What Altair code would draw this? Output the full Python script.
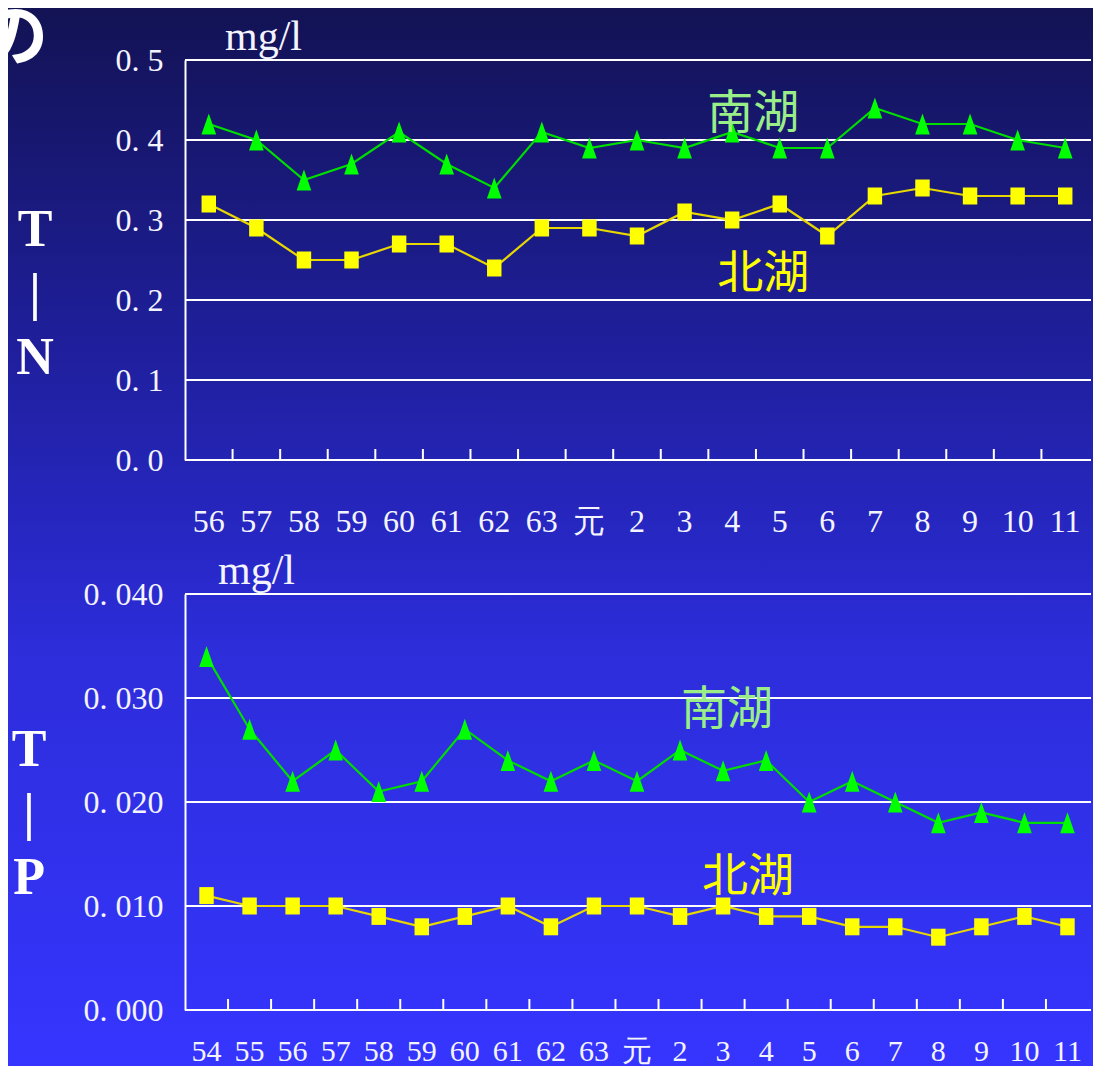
import altair as alt
import pandas as pd

# ---------------- data ----------------
TN_YEARS = ["56", "57", "58", "59", "60", "61", "62", "63", "元", "2", "3", "4", "5", "6", "7", "8", "9", "10", "11"]
TN_SOUTH = [0.42, 0.40, 0.35, 0.37, 0.41, 0.37, 0.34, 0.41, 0.39, 0.40, 0.39, 0.41, 0.39, 0.39, 0.44, 0.42, 0.42, 0.40, 0.39]
TN_NORTH = [0.32, 0.29, 0.25, 0.25, 0.27, 0.27, 0.24, 0.29, 0.29, 0.28, 0.31, 0.30, 0.32, 0.28, 0.33, 0.34, 0.33, 0.33, 0.33]
TN_GRID = [0.0, 0.1, 0.2, 0.3, 0.4, 0.5]

TP_YEARS = ["54", "55", "56", "57", "58", "59", "60", "61", "62", "63", "元", "2", "3", "4", "5", "6", "7", "8", "9", "10", "11"]
TP_SOUTH = [0.034, 0.027, 0.022, 0.025, 0.021, 0.022, 0.027, 0.024, 0.022, 0.024, 0.022,
            0.025, 0.023, 0.024, 0.020, 0.022, 0.020, 0.018, 0.019, 0.018, 0.018]
TP_NORTH = [0.011, 0.010, 0.010, 0.010, 0.009, 0.008, 0.009, 0.010, 0.008, 0.010, 0.010,
            0.009, 0.010, 0.009, 0.009, 0.008, 0.008, 0.007, 0.008, 0.009, 0.008]
TP_GRID = [0.0, 0.01, 0.02, 0.03, 0.04]

LAKES = ["南湖", "北湖"]
# annotation anchors: (year, value, dx)
TN_LABELS = [("4", 0.4377, 21), ("4", 0.2372, 31)]
TP_LABELS = [("3", 0.0292, 4), ("3", 0.0132, 25)]
CORNER_GLYPH = "の"   # partly cut-off title character at the top-left corner

# ---------------- style ----------------
W = 904
LEFT = 177          # visible space left of the plot
CUT_L = 30          # hidden extra strip on the left (negative padding)
CUT_T = 10          # hidden extra strip on the top (negative padding)
FONT_NUM = "Liberation Serif"
FONT_CJK = "Noto Sans CJK JP"
TXT = "#F4F4FF"
GREEN_LINE = "#00DD00"
GREEN_MARK = "#00FF00"
YELLOW_LINE = "#E8D800"
YELLOW_MARK = "#FFFF00"
SOUTH_TEXT = "#9AEE88"
NORTH_TEXT = "#FFFF00"
TRI = "M0,-1L-0.7,1L0.7,1Z"
SQR = "M-0.85,-1L0.85,-1L0.85,1L-0.85,1Z"


def panel(years, south, north, grid, fmt, H, top_ext, bot_ext, stops,
          unit_xy, letters, letters_xy, labels, xfs, xpad, corner=False):
    ymax = grid[-1]
    xscale = alt.Scale(type="band", paddingInner=0, paddingOuter=0)
    yscale = alt.Scale(domain=[0, ymax], nice=False, zero=True)

    xaxis = alt.Axis(title=None, labelAngle=0, labelFont=FONT_NUM, labelFontSize=xfs,
                     labelColor=TXT, labelPadding=xpad, ticks=False, tickSize=0,
                     domain=False, grid=False, labelOverlap=False, zindex=1)
    yaxis = alt.Axis(title=None, values=grid,
                     labelExpr=f"replace(format(datum.value, '{fmt}'), '.', '. ')",
                     labelFont=FONT_NUM, labelFontSize=32, labelColor=TXT,
                     labelPadding=22, ticks=False, tickSize=0,
                     domainColor="white", domainWidth=2, grid=False, zindex=1)

    def X(band=0.5):
        return alt.X("year:N", sort=years, scale=xscale, bandPosition=band, axis=xaxis)

    def Y():
        return alt.Y("value:Q", scale=yscale, axis=yaxis)

    one = pd.DataFrame({"k": [0]})
    south_df = pd.DataFrame({"year": years, "value": south})
    north_df = pd.DataFrame({"year": years, "value": north})
    grid_df = pd.DataFrame({"value": grid})
    tick_df = pd.DataFrame({"year": years[1:]})

    bg = alt.Chart(one).mark_rect(
        color=alt.LinearGradient(
            gradient="linear", x1=0, x2=0, y1=0, y2=1,
            stops=[alt.GradientStop(color=c, offset=o) for o, c in stops]),
        strokeWidth=0,
    ).encode(x=alt.value(-LEFT - CUT_L), x2=alt.value(W + 4),
             y=alt.value(-top_ext), y2=alt.value(H + bot_ext))

    gridlines = alt.Chart(grid_df).mark_rule(color="white", strokeWidth=2).encode(
        y=Y(), x=alt.value(0), x2=alt.value(W + 2))

    ticks = alt.Chart(tick_df).mark_rule(color="white", strokeWidth=2).encode(
        x=X(band=0), y=alt.value(H - 11), y2=alt.value(H))

    s_line = alt.Chart(south_df).mark_line(color=GREEN_LINE, strokeWidth=2.2).encode(x=X(), y=Y())
    n_line = alt.Chart(north_df).mark_line(color=YELLOW_LINE, strokeWidth=2.2).encode(x=X(), y=Y())
    s_pts = alt.Chart(south_df).mark_point(shape=TRI, size=441, filled=True, opacity=1,
                                           color=GREEN_MARK, strokeWidth=0).encode(x=X(), y=Y())
    n_pts = alt.Chart(north_df).mark_point(shape=SQR, size=289, filled=True, opacity=1,
                                           color=YELLOW_MARK, strokeWidth=0).encode(x=X(), y=Y())

    texts = []
    for (yr, val, dx), lake, col in zip(labels, LAKES, [SOUTH_TEXT, NORTH_TEXT]):
        d = pd.DataFrame({"year": [yr], "value": [val], "t": [lake]})
        texts.append(alt.Chart(d).mark_text(font=FONT_CJK, fontSize=46, color=col,
                                            align="center", baseline="middle", dx=dx, dy=4)
                     .encode(x=X(), y=Y(), text="t:N"))

    unit = alt.Chart(one).mark_text(text="mg/l", font=FONT_NUM, fontSize=42, color=TXT,
                                    align="left", baseline="alphabetic").encode(
        x=alt.value(unit_xy[0]), y=alt.value(unit_xy[1]))
    side = alt.Chart(one).mark_text(text=letters, font=FONT_NUM, fontSize=52, fontWeight="bold",
                                    color="white", lineHeight=64, align="center",
                                    baseline="middle").encode(
        x=alt.value(letters_xy[0]), y=alt.value(letters_xy[1]))

    layers = [bg, gridlines, ticks, s_line, n_line, s_pts, n_pts, *texts, unit, side]
    if corner:
        layers.append(alt.Chart(one).mark_text(text=CORNER_GLYPH, font=FONT_CJK, fontSize=68,
                                               fontWeight="bold", color="white",
                                               align="center", baseline="middle").encode(
            x=alt.value(-171), y=alt.value(-20)))
    return alt.layer(*layers).properties(width=W, height=H)


top = panel(TN_YEARS, TN_SOUTH, TN_NORTH, TN_GRID, ".1f", 400, 52 + CUT_T, 82,
            [(0, "#121252"), (0.55, "#1D1D92"), (1, "#2727C4")],
            (40, -10), ["T", "|", "N"], (-150, 170), TN_LABELS, 32, 46, corner=True)
bottom = panel(TP_YEARS, TP_SOUTH, TP_NORTH, TP_GRID, ".3f", 416, 52, 56,
               [(0, "#2727C4"), (0.2, "#2D2DDA"), (1, "#3535FF")],
               (33, -10), ["T", "|", "P"], (-156, 156), TP_LABELS, 30, 26)

chart = alt.vconcat(top, bottom, spacing=0).properties(
    padding={"left": -CUT_L, "top": -CUT_T, "right": 0, "bottom": 0},
    background="#131356").configure_view(strokeWidth=0)

chart.save("out.html", embed_options={"renderer": "svg", "actions": False})
